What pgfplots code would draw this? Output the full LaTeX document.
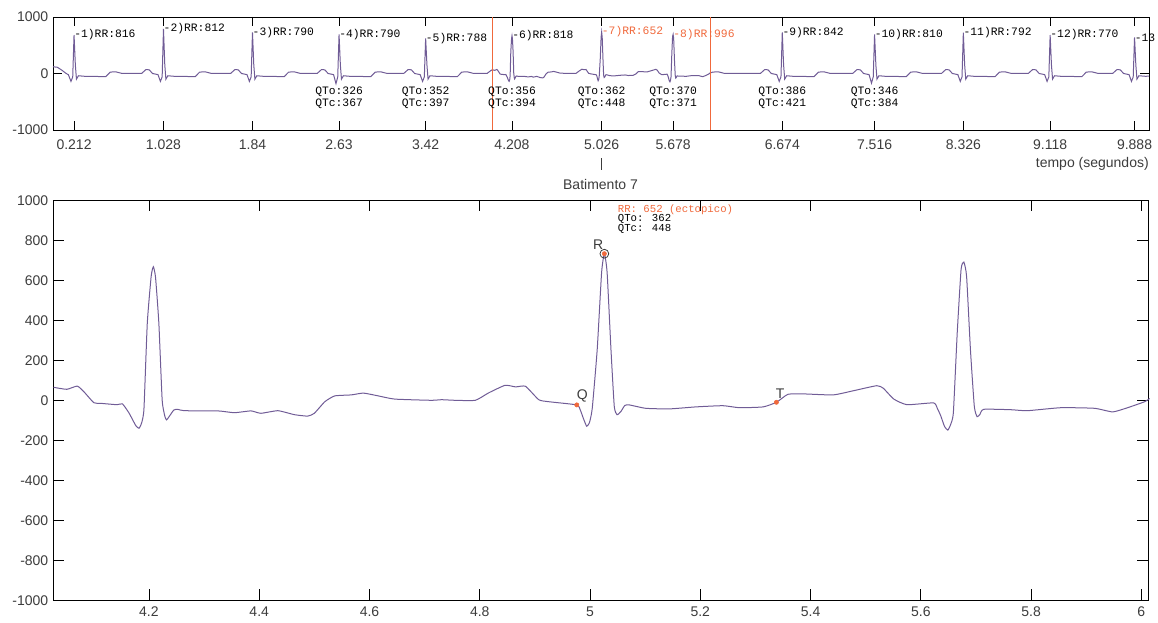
\documentclass[border=0pt]{standalone}
\usepackage{fontspec}
\setmainfont{Liberation Sans}
\newfontfamily\mono{Liberation Mono}
\usepackage{pgfplots}
\usepackage{pgfplotstable}
\pgfplotsset{compat=1.18}
\definecolor{ecg}{RGB}{112,92,150}
\definecolor{ecto}{RGB}{240,105,60}
\definecolor{txt}{RGB}{60,60,60}

% sinal completo, antes da janela
\pgfplotstableread{
t v
0.020 120
0.060 110
0.100 60
0.140 0
0.160 -20
0.184 -140
0.200 -60
0.212 681
0.224 150
0.234 -100
0.252 -40
0.312 -50
0.502 -55
0.542 25
0.592 30
0.652 0
0.828 0
0.868 70
0.898 65
0.928 0
0.978 -20
1.000 -140
1.016 -60
1.028 788
1.040 150
1.050 -100
1.068 -40
1.128 -50
1.318 -55
1.358 25
1.408 30
1.468 0
1.640 0
1.680 70
1.710 65
1.740 0
1.790 -20
1.812 -140
1.828 -60
1.840 729
1.852 150
1.862 -100
1.880 -40
1.940 -50
2.130 -55
2.170 25
2.220 30
2.280 0
2.430 0
2.470 70
2.500 65
2.530 0
2.580 -20
2.602 -180
2.618 -60
2.630 694
2.642 150
2.652 -100
2.670 -40
2.730 -50
2.920 -55
2.960 25
3.010 30
3.070 0
3.220 0
3.260 70
3.290 65
3.320 0
3.370 -20
3.392 -140
3.408 -60
3.420 623
3.432 150
3.442 -100
3.460 -40
3.520 -50
3.710 -55
3.750 25
3.800 30
3.860 0
3.980 0
4.010 45
4.027 66
}\toppre

% janela do batimento 7
\pgfplotstableread{
t v
4.027 66
4.051 56
4.070 72
4.082 44
4.100 -11
4.112 -14
4.142 -21
4.152 -17
4.164 -63
4.176 -125
4.182 -139
4.187 -110
4.191 -40
4.197 386
4.204 620
4.208 669
4.212 615
4.218 386
4.224 2
4.229 -80
4.232 -97
4.238 -75
4.245 -48
4.252 -44
4.264 -51
4.325 -52
4.355 -61
4.385 -52
4.403 -64
4.434 -51
4.464 -71
4.488 -78
4.500 -64
4.519 -6
4.537 23
4.567 28
4.589 37
4.616 23
4.646 7
4.712 1
4.731 4
4.755 1
4.792 1
4.816 38
4.846 76
4.865 68
4.883 71
4.907 4
4.925 -6
4.976 -22
4.982 -45
4.988 -90
4.994 -129
4.999 -110
5.004 -40
5.013 254
5.021 640
5.026 734
5.031 640
5.038 254
5.044 -30
5.049 -71
5.056 -55
5.063 -25
5.071 -22
5.101 -39
5.144 -42
5.192 -32
5.241 -26
5.271 -36
5.314 -32
5.338 -9
5.359 31
5.387 33
5.441 28
5.478 49
5.520 74
5.532 61
5.551 7
5.575 -21
5.623 -12
5.630 -40
5.636 -76
5.643 -130
5.649 -148
5.654 -120
5.659 -60
5.666 339
5.673 656
5.678 692
5.683 620
5.690 252
5.697 -30
5.702 -81
5.707 -70
5.714 -44
5.763 -46
5.793 -51
5.854 -36
5.915 -39
5.948 -57
5.975 -36
6.006 -6
6.015 10
}\batimento

% sinal completo, depois da janela
\pgfplotstableread{
t v
6.015 10
6.040 25
6.090 30
6.150 0
6.474 0
6.514 70
6.544 65
6.574 0
6.624 -20
6.646 -140
6.662 -60
6.674 729
6.686 150
6.696 -100
6.714 -40
6.774 -50
6.964 -55
7.004 25
7.054 30
7.114 0
7.316 0
7.356 70
7.386 65
7.416 0
7.466 -20
7.488 -170
7.504 -60
7.516 694
7.528 150
7.538 -100
7.556 -40
7.616 -50
7.806 -55
7.846 25
7.896 30
7.956 0
8.126 0
8.166 70
8.196 65
8.226 0
8.276 -20
8.298 -140
8.314 -60
8.326 722
8.338 150
8.348 -100
8.366 -40
8.426 -50
8.616 -55
8.656 25
8.706 30
8.766 0
8.918 0
8.958 70
8.988 65
9.018 0
9.068 -20
9.090 -140
9.106 -60
9.118 681
9.130 150
9.140 -100
9.158 -40
9.218 -50
9.408 -55
9.448 25
9.498 30
9.558 0
9.688 0
9.728 70
9.758 65
9.788 0
9.838 -20
9.860 -140
9.876 -60
9.888 641
9.900 150
9.910 -100
9.928 -40
9.990 -50
10.020 -45
}\toppost

\pgfplotsset{
  ecgaxis/.style={
    scale only axis, anchor=south west, clip=false,
    tick align=inside,
    axis line style={line width=0.6pt},
    every tick/.style={black, line width=0.6pt},
    tick label style={font=\fontsize{10.5}{12}\selectfont, text=txt},
  },
}
\tikzset{
  rrlbl/.style={anchor=west, inner sep=0pt, font=\mono\fontsize{8.5}{9}\selectfont},
  qtlbl/.style={inner sep=0pt, font=\mono\fontsize{8.5}{9}\selectfont},
}

\begin{document}
\begin{tikzpicture}
\path[use as bounding box] (0,0) rectangle (868.5pt,466.5pt);

% painel superior: registo inteiro
\begin{axis}[ecgaxis,
  at={(39.75pt,369pt)}, width=822pt, height=84.75pt,
  xmin=0.02, xmax=10.02, ymin=-1000, ymax=1000,
  xtick={0.212,1.028,1.84,2.63,3.42,4.208,5.026,5.678,6.674,7.516,8.326,9.118,9.888},
  xticklabels={0.212,1.028,1.84,2.63,3.42,4.208,5.026,5.678,6.674,7.516,8.326,9.118,9.888},
  ytick={-1000,0,1000}, yticklabels={-1000,0,1000},
  major tick length=6.5pt,
  xticklabel style={yshift=-3.5pt},
]
\addplot[ecg, line width=0.75pt] table {\toppre};
\addplot[ecg, line width=0.75pt] table {\batimento};
\addplot[ecg, line width=0.75pt] table {\toppost};
\addplot[ecto, line width=0.75pt] coordinates {(4.026,-1000) (4.026,1000)};
\addplot[ecto, line width=0.75pt] coordinates {(6.015,-1000) (6.015,1000)};

\node[rrlbl] at (axis cs:0.212,681) {-1)RR:816};
\node[rrlbl] at (axis cs:1.028,788) {-2)RR:812};
\node[rrlbl] at (axis cs:1.840,729) {-3)RR:790};
\node[rrlbl] at (axis cs:2.630,694) {-4)RR:790};
\node[rrlbl] at (axis cs:3.420,623) {-5)RR:788};
\node[rrlbl] at (axis cs:4.208,669) {-6)RR:818};
\node[rrlbl, text=ecto] at (axis cs:5.026,734) {-7)RR:652};
\node[rrlbl, text=ecto] at (axis cs:5.678,692) {-8)RR:996};
\node[rrlbl] at (axis cs:6.674,729) {-9)RR:842};
\node[rrlbl] at (axis cs:7.516,694) {-10)RR:810};
\node[rrlbl] at (axis cs:8.326,722) {-11)RR:792};
\node[rrlbl] at (axis cs:9.118,681) {-12)RR:770};
\node[rrlbl] at (axis cs:9.888,641) {-13};

\node[qtlbl] at (axis cs:2.630,-327) {QTo:326};
\node[qtlbl] at (axis cs:2.630,-540) {QTc:367};
\node[qtlbl] at (axis cs:3.420,-327) {QTo:352};
\node[qtlbl] at (axis cs:3.420,-540) {QTc:397};
\node[qtlbl] at (axis cs:4.208,-327) {QTo:356};
\node[qtlbl] at (axis cs:4.208,-540) {QTc:394};
\node[qtlbl] at (axis cs:5.026,-327) {QTo:362};
\node[qtlbl] at (axis cs:5.026,-540) {QTc:448};
\node[qtlbl] at (axis cs:5.678,-327) {QTo:370};
\node[qtlbl] at (axis cs:5.678,-540) {QTc:371};
\node[qtlbl] at (axis cs:6.674,-327) {QTo:386};
\node[qtlbl] at (axis cs:6.674,-540) {QTc:421};
\node[qtlbl] at (axis cs:7.516,-327) {QTo:346};
\node[qtlbl] at (axis cs:7.516,-540) {QTc:384};

\draw[txt, line width=0.6pt] (axis cs:5.026,-1496) -- (axis cs:5.026,-1708);
\node[anchor=base east, inner sep=0pt, text=txt, font=\fontsize{10.5}{12}\selectfont]
  at (rel axis cs:1,0) [yshift=-28.5pt] {tempo (segundos)};
\end{axis}

% painel inferior: batimento 7
\begin{axis}[ecgaxis,
  at={(39.75pt,16.125pt)}, width=821.25pt, height=300pt,
  xmin=4.026, xmax=6.012, ymin=-1000, ymax=1000,
  xtick={4.2,4.4,4.6,4.8,5,5.2,5.4,5.6,5.8,6},
  xticklabels={4.2,4.4,4.6,4.8,5,5.2,5.4,5.6,5.8,6},
  ytick={-1000,-800,-600,-400,-200,0,200,400,600,800,1000},
  yticklabels={-1000,-800,-600,-400,-200,0,200,400,600,800,1000},
  major tick length=8.25pt,
  xticklabel style={yshift=-1.5pt},
]
\addplot[ecg, line width=0.75pt, smooth, tension=0.3] table {\batimento};
\addplot[only marks, mark=o, mark size=3.3pt, mark options={txt, line width=0.6pt}]
  coordinates {(5.026,734)};
\addplot[only marks, mark=*, mark size=1.6pt, ecto]
  coordinates {(4.976,-22) (5.026,734) (5.338,-9)};

\node[text=txt, inner sep=0pt, font=\fontsize{10.5}{12}\selectfont] at (axis cs:5.015,781) {R};
\node[text=txt, inner sep=0pt, font=\fontsize{10.5}{12}\selectfont] at (axis cs:4.986,24) {Q};
\node[text=txt, inner sep=0pt, font=\fontsize{10.5}{12}\selectfont] at (axis cs:5.345,36) {T};

\node[anchor=west, inner sep=0pt, text=ecto, font=\mono\fontsize{8}{9}\selectfont]
  at (axis cs:5.050,956) {RR: 652 (ectopico)};
\node[anchor=west, inner sep=0pt, font=\mono\fontsize{8}{9}\selectfont]
  at (axis cs:5.050,907) {QTo: 362};
\node[anchor=west, inner sep=0pt, font=\mono\fontsize{8}{9}\selectfont]
  at (axis cs:5.050,857) {QTc: 448};

\node[anchor=base, inner sep=0pt, text=txt, font=\fontsize{10.5}{12}\selectfont]
  at (rel axis cs:0.5,1) [yshift=8.6pt] {Batimento 7};
\end{axis}
\end{tikzpicture}
\end{document}
